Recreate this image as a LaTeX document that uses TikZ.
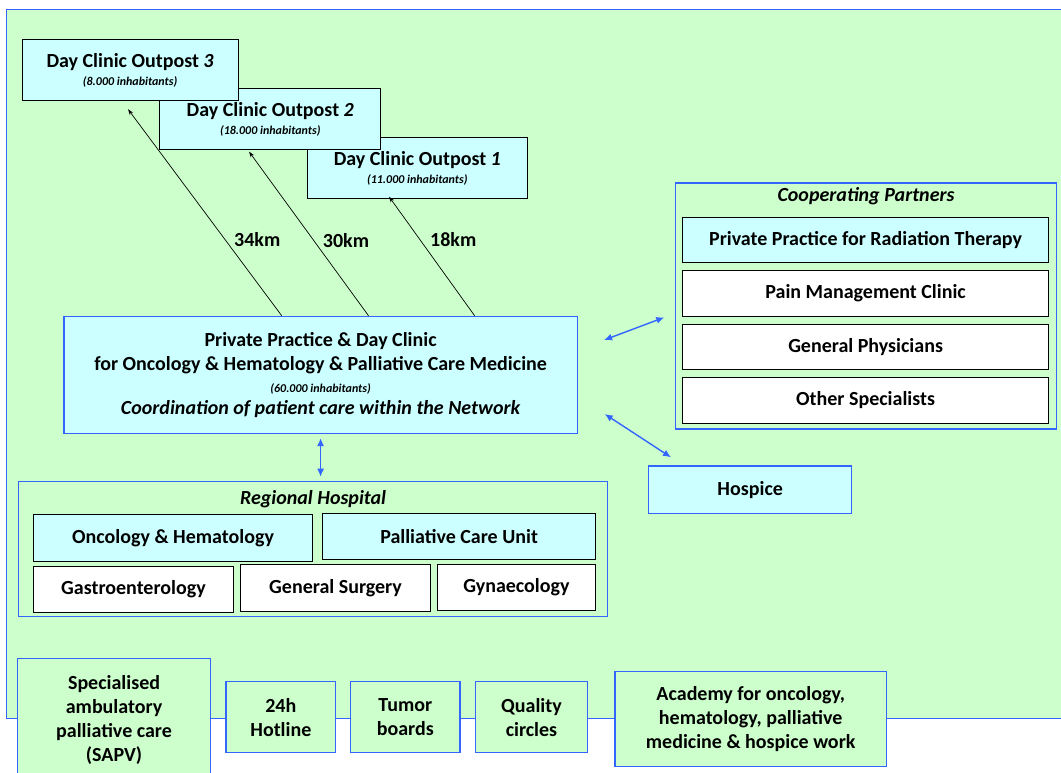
\documentclass[tikz,border=0pt]{standalone}
\usepackage{fontspec}
\setmainfont{Carlito}
\usepackage{tikz}
\usetikzlibrary{arrows.meta, positioning, calc}
\definecolor{netgreen}{HTML}{CCFFCC}
\definecolor{netcyan}{HTML}{CCFFFF}
\definecolor{netblue}{HTML}{3366FF}
\newcommand{\smalltxt}{\fontsize{12}{14}\selectfont\itshape}
\tikzset{
    base/.style={font=\fontsize{20}{24}\selectfont\bfseries, align=center, inner sep=2pt, rectangle},
    boxsize/.style 2 args={minimum width=#1pt, minimum height=#2pt},
    block/.style={base, draw=black, line width=0.9pt, fill=netcyan},
    blockwhite/.style={base, draw=black, line width=0.9pt, fill=white},
    blockblue/.style={base, draw=netblue, line width=1.4pt, fill=netcyan},
    group/.style={base, draw=netblue, line width=1.4pt, fill=netgreen},
    grouptitle/.style={font=\fontsize{20}{24}\selectfont\bfseries\itshape, inner sep=0pt},
    line/.style={draw=black, line width=0.7pt, -{Stealth[length=6pt, width=4pt]}},
    link/.style={draw=netblue, line width=1.4pt, {Latex[length=8pt, width=7pt]}-{Latex[length=8pt, width=7pt]}},
    km/.style={font=\fontsize{20}{24}\selectfont\bfseries, inner sep=0pt}
}

\begin{document}
\begin{tikzpicture}[x=1pt, y=-1pt]
    \useasboundingbox (0,0) rectangle (1061,772);
    % network area
    \draw [netblue, line width=1.4pt, fill=netgreen] (6.5,9.3) rectangle (1080,718.3);

    % day clinic outposts
    \node [block, boxsize={220.7}{60.7}, anchor=north west] (out1) at (306.5,137.3) {Day Clinic Outpost \textit{1}\\[-6pt]{\smalltxt (11.000 inhabitants)}};
    \node [block, boxsize={220.8}{60.7}, anchor=north west] (out2) at (159.4,88.3) {Day Clinic Outpost \textit{2}\\[-6pt]{\smalltxt (18.000 inhabitants)}};
    \node [block, boxsize={215.9}{60.7}, anchor=north west] (out3) at (21.7,39.3) {Day Clinic Outpost \textit{3}\\[-6pt]{\smalltxt (8.000 inhabitants)}};

    % main practice
    \node [block, draw=netblue, line width=1.4pt, boxsize={513.2}{117}, anchor=north west] (main) at (63.3,315.7)
        {Private Practice \& Day Clinic\\ for Oncology \& Hematology \& Palliative Care Medicine\\[-2pt] {\smalltxt (60.000 inhabitants)}\\[-2pt] \itshape Coordination of patient care within the Network};

    \draw [line] ($(main.north west)+(218.4,0)$) -- node [km, pos=0.37, right=9pt] {34km} ($(out3.south west)+(106.3,8.3)$);
    \draw [line] ($(main.north west)+(305.2,0)$) -- node [km, pos=0.46, right=9pt] {30km} ($(out2.south west)+(89.6,1.7)$);
    \draw [line] ($(main.north west)+(411.3,0)$) -- node [km, pos=0.64, right=10pt] {18km} ($(out1.south west)+(82.5,-2.3)$);

    % regional hospital
    \node [group, boxsize={589.2}{135.3}, anchor=north west] (hospital) at (17.8,480.7) {};
    \node [grouptitle] (hospitaltitle) at ($(hospital.north)+(0,18.6)$) {Regional Hospital};
    \node [block, boxsize={279.6}{46.4}, anchor=north west] (onco) at (32.8,514.3) {Oncology \& Hematology};
    \node [block, boxsize={272.7}{46}, anchor=north west] (pcu) at (322.3,513.3) {Palliative Care Unit};
    \node [blockwhite, boxsize={200.5}{46.6}, anchor=north west] (gastro) at (32.8,565.7) {Gastroenterology};
    \node [blockwhite, boxsize={189.4}{46.4}, anchor=north west] (surgery) at (240.4,564.3) {General Surgery};
    \node [blockwhite, boxsize={158}{45.7}, anchor=north west] (gyn) at (437,564.3) {Gynaecology};

    \draw [link] ($(main.south)+(0,4)$) -- ($(main.south |- hospital.north)+(0,-4)$);

    % cooperating partners
    \node [group, boxsize={381.3}{246}, anchor=north west] (partners) at (674.7,182.3) {};
    \node [grouptitle] (partnerstitle) at ($(partners.north)+(0,13.7)$) {Cooperating Partners};
    \node [block, boxsize={366.3}{45.6}, anchor=north west] (radio) at (682,216.7) {Private Practice for Radiation Therapy};
    \node [blockwhite, boxsize={366.3}{45.6}, below=7pt of radio] (pain) {Pain Management Clinic};
    \node [blockwhite, boxsize={366.3}{45.6}, below=7pt of pain] (gp) {General Physicians};
    \node [blockwhite, boxsize={366.3}{45.6}, below=7pt of gp] (others) {Other Specialists};

    \draw [link] ($(main.east)+(26.2,-34.9)$) -- ($(partners.west)+(-10.4,11.4)$);

    % hospice
    \node [blockblue, boxsize={203}{47.4}, anchor=north west] (hospice) at (648,465.3) {Hospice};
    \draw [link] ($(main.east)+(26.8,39.1)$) -- ($(hospice.north west)+(23,-8)$);

    % services
    \node [group, boxsize={192.7}{122.6}, anchor=north west] (sapv) at (17,657.7) {Specialised\\ambulatory\\palliative care\\(SAPV)};
    \node [group, boxsize={109.7}{71.3}, anchor=north west] (hotline) at (225.3,680.7) {24h\\Hotline};
    \node [group, boxsize={109.6}{71.3}, anchor=north west] (tumor) at (349.8,680.7) {Tumor\\boards};
    \node [group, boxsize={111.6}{71.3}, anchor=north west] (quality) at (475,680.7) {Quality\\circles};
    \node [group, boxsize={271.4}{95}, anchor=north west] (academy) at (614.3,670.7) {Academy for oncology,\\hematology, palliative\\medicine \& hospice work};
\end{tikzpicture}
\end{document}
